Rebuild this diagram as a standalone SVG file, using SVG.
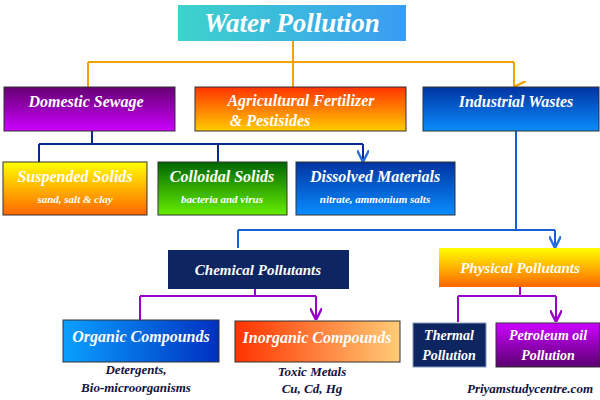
<svg xmlns="http://www.w3.org/2000/svg" width="600" height="400" viewBox="0 0 600 400">
<defs>
<linearGradient id="gTitle" x1="0" y1="0" x2="1" y2="0"><stop offset="0" stop-color="#3dd3cc"/><stop offset="1" stop-color="#3a9cf2"/></linearGradient>
<linearGradient id="gPurple" x1="0" y1="0" x2="0" y2="1"><stop offset="0" stop-color="#650070"/><stop offset="1" stop-color="#cc00ff"/></linearGradient>
<linearGradient id="gAgri" x1="0" y1="0" x2="0" y2="1"><stop offset="0" stop-color="#ff3300"/><stop offset="1" stop-color="#ffcc00"/></linearGradient>
<linearGradient id="gBlueV" x1="0" y1="0" x2="0" y2="1"><stop offset="0" stop-color="#0033a0"/><stop offset="1" stop-color="#0a8cff"/></linearGradient>
<linearGradient id="gYellow" x1="0" y1="0" x2="0" y2="1"><stop offset="0" stop-color="#ffff00"/><stop offset="1" stop-color="#ff6600"/></linearGradient>
<linearGradient id="gGreen" x1="0" y1="0" x2="0" y2="1"><stop offset="0" stop-color="#006600"/><stop offset="1" stop-color="#66ee00"/></linearGradient>
<linearGradient id="gOrg" x1="0" y1="0" x2="1" y2="0"><stop offset="0" stop-color="#0aa0ff"/><stop offset="1" stop-color="#0030c0"/></linearGradient>
<linearGradient id="gInorg" x1="0" y1="0" x2="1" y2="0"><stop offset="0" stop-color="#ff3300"/><stop offset="1" stop-color="#ffcc77"/></linearGradient>
<linearGradient id="gPetro" x1="0" y1="0" x2="0" y2="1"><stop offset="0" stop-color="#cc00ff"/><stop offset="1" stop-color="#5a0070"/></linearGradient>
<marker id="aO" viewBox="0 0 10 10" refX="5" refY="10" markerWidth="6" markerHeight="6" orient="auto-start-reverse"><path d="M0,0 L5,10 L10,0" fill="none" stroke="#f5a100" stroke-width="2"/></marker>
<marker id="aB" viewBox="0 0 10 10" refX="5" refY="10" markerWidth="6" markerHeight="6"><path d="M0,0 L5,10 L10,0" fill="none" stroke="#2a6fe0" stroke-width="2"/></marker>
<marker id="aP" viewBox="0 0 10 10" refX="5" refY="10" markerWidth="6" markerHeight="6"><path d="M0,0 L5,10 L10,0" fill="none" stroke="#9900cc" stroke-width="2"/></marker>
</defs>
<style>
text{font-family:"Liberation Serif","DejaVu Serif",serif;font-style:italic;font-weight:bold;text-anchor:middle}
.w{fill:#fff}
.d{fill:#111140;font-size:13px}
.b{stroke:#333;stroke-width:1}
.h{font-size:16px}
.s{font-size:11px}
</style>
<g id="connectors" fill="none" stroke-width="2">
<path d="M293,41 V62 M88,62 H514" stroke="#f5a100"/>
<path d="M88,62 V87 M293,62 V87 M514,62 V87" stroke="#f5a100" marker-end="url(#aO)"/>
<path d="M92,131 V144 M39,144 H363" stroke="#0a2a90"/>
<path d="M39,144 V162 M218,144 V162 M363,144 V162" stroke="#0a2a90" marker-end="url(#aB)"/>
<path d="M516,131 V230 M238,230 H555" stroke="#1560d8"/>
<path d="M238,230 V248 M555,230 V248" stroke="#1560d8" marker-end="url(#aB)"/>
<path d="M255,289 V296 M140,296 H316" stroke="#9900cc"/>
<path d="M140,296 V320 M316,296 V320" stroke="#9900cc" marker-end="url(#aP)"/>
<path d="M520,287 V296 M458,296 H556" stroke="#9900cc"/>
<path d="M458,296 V322 M556,296 V322" stroke="#9900cc" marker-end="url(#aP)"/>
</g>
<g id="title"><rect x="178" y="5" width="228" height="36" fill="url(#gTitle)"/><text x="292" y="32" class="w" font-size="27">Water Pollution</text></g>
<g id="domestic"><rect x="4" y="87" width="171" height="44" fill="url(#gPurple)" class="b"/><text x="86" y="107" class="w h">Domestic Sewage</text></g>
<g id="agri"><rect x="195" y="87" width="211" height="44" fill="url(#gAgri)" class="b"/><text x="301" y="106" class="w h">Agricultural Fertilizer</text><text x="270" y="126" class="w h">&amp; Pestisides</text></g>
<g id="industrial"><rect x="423" y="87" width="176" height="44" fill="url(#gBlueV)" class="b"/><text x="516" y="107" class="w h">Industrial Wastes</text></g>
<g id="suspended"><rect x="3" y="162" width="144" height="53" fill="url(#gYellow)" class="b"/><text x="75" y="182" class="w h">Suspended Solids</text><text x="75" y="203" class="w s">sand, salt &amp; clay</text></g>
<g id="colloidal"><rect x="158" y="162" width="129" height="53" fill="url(#gGreen)" class="b"/><text x="222" y="182" class="w h">Colloidal Solids</text><text x="222" y="203" class="w s">bacteria and virus</text></g>
<g id="dissolved"><rect x="296" y="162" width="159" height="53" fill="url(#gBlueV)" class="b"/><text x="375" y="182" class="w h">Dissolved Materials</text><text x="375" y="203" class="w s">nitrate, ammonium salts</text></g>
<g id="chemical"><rect x="168" y="250" width="181" height="39" fill="#0d2560"/><text x="258" y="275" class="w" font-size="15">Chemical Pollutants</text></g>
<g id="physical"><rect x="439" y="248" width="161" height="39" fill="url(#gYellow)"/><text x="520" y="273" class="w" font-size="15">Physical Pollutants</text></g>
<g id="organic"><rect x="63" y="320" width="156" height="42" fill="url(#gOrg)" class="b"/><text x="141" y="342" class="w h">Organic Compounds</text></g>
<g id="inorganic"><rect x="235" y="321" width="165" height="41" fill="url(#gInorg)" class="b"/><text x="317" y="343" class="w h">Inorganic Compounds</text></g>
<g id="thermal"><rect x="413" y="323" width="73" height="44" fill="#0d2560" stroke="#8899bb"/><text x="449" y="340" class="w" font-size="14">Thermal</text><text x="449" y="360" class="w" font-size="14">Pollution</text></g>
<g id="petroleum"><rect x="496" y="323" width="104" height="44" fill="url(#gPetro)" class="b"/><text x="548" y="340" class="w" font-size="14">Petroleum oil</text><text x="548" y="360" class="w" font-size="14">Pollution</text></g>
<text x="136" y="374" class="d">Detergents,</text>
<text x="136" y="392" class="d">Bio-microorganisms</text>
<text x="312" y="376" class="d">Toxic Metals</text>
<text x="312" y="393" class="d">Cu, Cd, Hg</text>
<text x="530" y="393" class="d">Priyamstudycentre.com</text>
</svg>
